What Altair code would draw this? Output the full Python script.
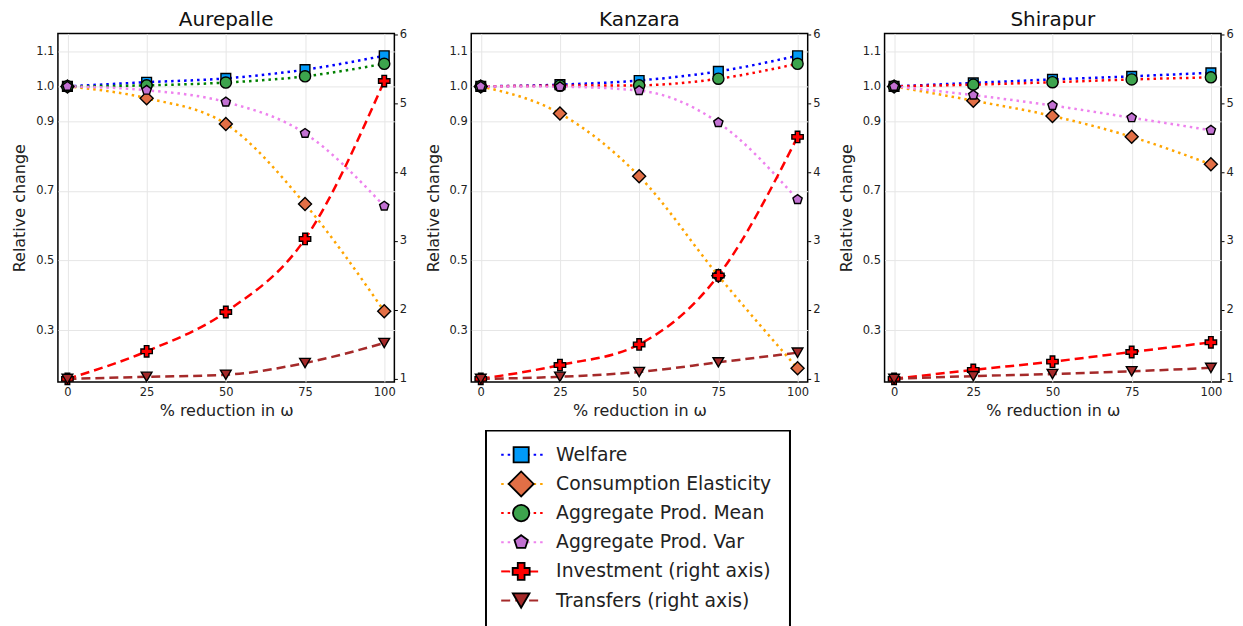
import altair as alt
import pandas as pd

villages = ["Aurepalle", "Kanzara", "Shirapur"]
x_vals = [0, 25, 50, 75, 100]
series = [
    "Welfare",
    "Consumption Elasticity",
    "Aggregate Prod. Mean",
    "Aggregate Prod. Var",
    "Investment (right axis)",
    "Transfers (right axis)",
]
right_series = ["Investment (right axis)", "Transfers (right axis)"]

welfare = {
    "Aurepalle": [1.0, 1.012, 1.023, 1.048, 1.088],
    "Kanzara": [1.0, 1.005, 1.017, 1.043, 1.088],
    "Shirapur": [1.0, 1.010, 1.020, 1.029, 1.039],
}
cons_elasticity = {
    "Aurepalle": [1.0, 0.966, 0.892, 0.662, 0.354],
    "Kanzara": [1.0, 0.922, 0.742, 0.456, 0.190],
    "Shirapur": [1.0, 0.959, 0.915, 0.855, 0.776],
}
prod_mean = {
    "Aurepalle": [1.0, 1.003, 1.011, 1.029, 1.065],
    "Kanzara": [1.0, 1.002, 1.003, 1.022, 1.065],
    "Shirapur": [1.0, 1.005, 1.012, 1.020, 1.026],
}
prod_var = {
    "Aurepalle": [1.0, 0.989, 0.955, 0.865, 0.656],
    "Kanzara": [1.0, 0.999, 0.988, 0.896, 0.675],
    "Shirapur": [1.0, 0.975, 0.945, 0.910, 0.874],
}
investment = {
    "Aurepalle": [1.0, 1.40, 1.97, 3.03, 5.32],
    "Kanzara": [1.0, 1.20, 1.50, 2.50, 4.51],
    "Shirapur": [1.0, 1.13, 1.25, 1.39, 1.53],
}
transfers = {
    "Aurepalle": [1.0, 1.03, 1.06, 1.23, 1.52],
    "Kanzara": [1.0, 1.03, 1.10, 1.24, 1.38],
    "Shirapur": [1.0, 1.04, 1.07, 1.11, 1.16],
}
all_values = [welfare, cons_elasticity, prod_mean, prod_var, investment, transfers]

# styles
line_colors = ["#0000FF", "#FFA500", "#FF0000", "#EE82EE", "#FF0000", "#A52A2A"]
line_colors_aurepalle = ["#0000FF", "#FFA500", "#008000", "#EE82EE", "#FF0000", "#A52A2A"]
fill_colors = ["#009AF9", "#E26F46", "#3DA44D", "#C271D2", "#FF0000", "#A52A2A"]
pentagon = "M0,-1L0.951,-0.309L0.588,0.809L-0.588,0.809L-0.951,-0.309Z"
shapes = ["square", "diamond", "circle", pentagon, "cross", "triangle-down"]
sizes_panel = [95, 170, 125, 95, 130, 115]
sizes_legend = [230, 625, 270, 200, 290, 280]
dashes = [[2.5, 4], [2.5, 4], [2.5, 4], [2.5, 4], [9, 5], [9, 5]]

FONT = "DejaVu Sans"
W, H = 337, 349

rows = []
for v in villages:
    for s, vals in zip(series, all_values):
        for x, val in zip(x_vals, vals[v]):
            rows.append({"village": v, "series": s, "x": x, "value": val,
                         "side": "right" if s in right_series else "left"})
df = pd.DataFrame(rows)


def enc_styles(lc, sz):
    return dict(
        color=alt.Color("series:N", scale=alt.Scale(domain=series, range=lc), legend=None),
        strokeDash=alt.StrokeDash("series:N", scale=alt.Scale(domain=series, range=dashes), legend=None),
        shape=alt.Shape("series:N", scale=alt.Scale(domain=series, range=shapes), legend=None),
        fill=alt.Fill("series:N", scale=alt.Scale(domain=series, range=fill_colors), legend=None),
        size=alt.Size("series:N", scale=alt.Scale(type="ordinal", domain=series, range=sz),
                      legend=None),
    )


def legend_layer():
    st = enc_styles(line_colors, sizes_legend)
    leg_df = pd.DataFrame({"series": series, "idx": list(range(len(series)))})
    lb = alt.Chart(leg_df)
    # places legend rows below the plot area (rows 29.2px apart)
    ly = alt.Y("idx:Q", scale=alt.Scale(domain=[-14.452, -2.5], reverse=True, nice=False, zero=False),
               axis=None)
    box = lb.mark_rect(fill="white", stroke="black", strokeWidth=1.5).encode(
        x=alt.value(15), x2=alt.value(319), y=alt.value(398), y2=alt.value(610))
    rules = lb.mark_rule(strokeWidth=2).encode(
        x=alt.value(30), x2=alt.value(72), y=ly, color=st["color"], strokeDash=st["strokeDash"])
    pts = lb.mark_point(filled=True, stroke="black", strokeWidth=1.8, opacity=1).encode(
        x=alt.value(50), y=ly, shape=st["shape"], fill=st["fill"], size=st["size"])
    txt = lb.mark_text(align="left", baseline="middle", fontSize=18.8, font=FONT,
                       color="#222").encode(x=alt.value(85), y=ly, text="series:N")
    return alt.layer(box, rules, pts, txt)


def panel(v, with_legend=False):
    d = df[df.village == v]
    lc = line_colors_aurepalle if v == "Aurepalle" else line_colors
    st = enc_styles(lc, sizes_panel)
    x = alt.X("x:Q", scale=alt.Scale(domain=[-3, 103.2], nice=False, zero=False),
              axis=alt.Axis(values=x_vals, title="% reduction in ω", grid=True,
                            ticks=False, labelPadding=5, titlePadding=4))
    yl = alt.Y("value:Q", scale=alt.Scale(domain=[0.151, 1.152], nice=False, zero=False),
               axis=alt.Axis(values=[0.3, 0.5, 0.7, 0.9, 1.0, 1.1], format=".1f",
                             title="Relative change", grid=True, ticks=False,
                             labelPadding=4, titlePadding=8))
    yr = alt.Y("value:Q", scale=alt.Scale(domain=[0.956, 6.01], nice=False, zero=False),
               axis=alt.Axis(values=[1, 2, 3, 4, 5, 6], format="d", title=None,
                             orient="right", grid=False, ticks=True, tickSize=3,
                             tickColor="black", labelPadding=2))
    base = alt.Chart(d)
    left = base.transform_filter(alt.datum.side == "left")
    right = base.transform_filter(alt.datum.side == "right")
    l_lines = left.mark_line(strokeWidth=2.5, interpolate="monotone").encode(
        x=x, y=yl, color=st["color"], strokeDash=st["strokeDash"], detail="series:N")
    l_pts = left.mark_point(filled=True, stroke="black", strokeWidth=1.4, opacity=1).encode(
        x=x, y=yl, shape=st["shape"], fill=st["fill"], size=st["size"])
    r_lines = right.mark_line(strokeWidth=2.5, interpolate="monotone").encode(
        x=x, y=yr, color=st["color"], strokeDash=st["strokeDash"], detail="series:N")
    r_pts = right.mark_point(filled=True, stroke="black", strokeWidth=1.4, opacity=1).encode(
        x=x, y=yr, shape=st["shape"], fill=st["fill"], size=st["size"])
    main = alt.layer(alt.layer(l_lines, l_pts), alt.layer(r_lines, r_pts)).resolve_scale(
        y="independent")
    if with_legend:
        main = alt.layer(main, legend_layer()).resolve_scale(y="independent", size="independent")
    return main.properties(
        width=W, height=H,
        title=alt.TitleParams(v, fontSize=20, font=FONT, fontWeight="normal",
                              color="#111", offset=-2),
    )


chart = alt.hconcat(
    panel("Aurepalle"), panel("Kanzara", with_legend=True), panel("Shirapur"),
    spacing=77, bounds="flush"
).resolve_scale(
    color="independent", size="independent"
).properties(
    padding={"left": 2, "top": 0, "right": 0, "bottom": 0}
).configure_view(
    stroke="black", strokeWidth=1.5
).configure_axis(
    labelFont=FONT, titleFont=FONT, labelFontSize=11.5, titleFontSize=16,
    titleFontWeight="normal", labelColor="#222", titleColor="#222",
    gridColor="#e6e6e6", gridWidth=1, domain=False
)

chart.save("out.html", embed_options={"renderer": "svg", "actions": False})
